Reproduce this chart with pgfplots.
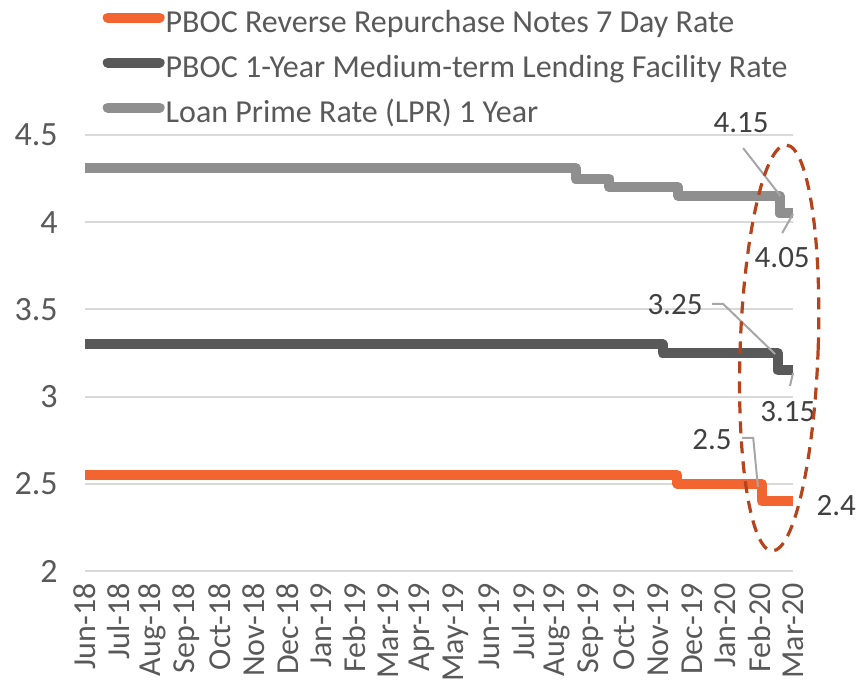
\documentclass[border=0pt]{standalone}
\usepackage{pgfplots}
\pgfplotsset{compat=1.18}
\usepackage{fontspec}
\setmainfont{Carlito}
\definecolor{cOr}{HTML}{F26531}
\definecolor{cDk}{HTML}{595959}
\definecolor{cLt}{HTML}{8F8F8F}
\definecolor{cGrid}{HTML}{D9D9D9}
\definecolor{cTxt}{HTML}{595959}
\definecolor{cLbl}{HTML}{404040}
\definecolor{cLead}{HTML}{A6A6A6}
\definecolor{cEll}{HTML}{B5441D}
\begin{document}
\begin{tikzpicture}
\path[use as bounding box] (0,0) rectangle (428pt,343pt);
\begin{axis}[
  at={(42.5pt,57.5pt)}, anchor=south west,
  scale only axis, width=354pt, height=218pt,
  xmin=0, xmax=21, ymin=2, ymax=4.5,
  clip=false,
  axis line style={draw=none},
  major tick length=0pt,
  ytick={2,2.5,3,3.5,4,4.5},
  yticklabels={2,2.5,3,3.5,4,4.5},
  ymajorgrids, grid style={cGrid, line width=1pt},
  xtick={0,1,...,21},
  xticklabels={Jun-18,Jul-18,Aug-18,Sep-18,Oct-18,Nov-18,Dec-18,Jan-19,Feb-19,Mar-19,Apr-19,May-19,Jun-19,Jul-19,Aug-19,Sep-19,Oct-19,Nov-19,Dec-19,Jan-20,Feb-20,Mar-20},
  yticklabel style={font=\fontsize{17}{17}\selectfont, text=cTxt, anchor=east, inner sep=0pt, xshift=-13.5pt},
  xticklabel style={font=\fontsize{16}{16}\selectfont, text=cTxt, rotate=90, anchor=east, inner sep=0pt},
  xticklabel shift=6pt,
  legend style={draw=none, fill=none, inner sep=0pt, outer sep=0pt,
    at={(axis description cs:0.025,1.29)}, anchor=north west,
    font=\fontsize{16}{16}\selectfont, text=cTxt, row sep=6.5pt,
    nodes={inner sep=0.5pt, text height=11.5pt, text depth=3.5pt}},
  legend cell align=left,
  legend image code/.code={\draw[line width=5pt, line cap=round, #1] (2.5pt,3.5pt) -- (28.5pt,3.5pt);},
  every axis plot/.append style={line width=5pt, line join=round},
]
\addplot[const plot, cOr] coordinates {(0,2.55) (17.57,2.50) (20.07,2.40) (21,2.40)};
\addlegendentry{PBOC Reverse Repurchase Notes 7 Day Rate}
\addplot[const plot, cDk] coordinates {(0,3.30) (17.13,3.25) (20.55,3.15) (21,3.15)};
\addlegendentry{PBOC 1-Year Medium-term Lending Facility Rate}
\addplot[const plot, cLt] coordinates {(0,4.31) (14.55,4.25) (15.55,4.20) (17.6,4.15) (20.6,4.05) (21,4.05)};
\addlegendentry{Loan Prime Rate (LPR) 1 Year}

% leader lines
\draw[cLead, line width=1pt] (axis cs:19.52,4.425) -- (axis cs:20.63,4.15);
\draw[cLead, line width=1pt] (axis cs:20.68,3.938) -- (axis cs:21.0,4.047);
\draw[cLead, line width=1pt] (axis cs:18.60,3.531) -- (axis cs:18.93,3.531) -- (axis cs:20.47,3.244);
\draw[cLead, line width=1pt] (axis cs:20.91,3.061) -- (axis cs:21.0,3.135);
\draw[cLead, line width=1pt] (axis cs:19.49,2.763) -- (axis cs:19.82,2.763) -- (axis cs:19.96,2.482);
% labels
\begin{scope}[every node/.style={font=\fontsize{15.5}{15.5}\selectfont, text=cLbl, inner sep=0pt}]
\node at (axis cs:19.46,4.569) {4.15};
\node at (axis cs:20.68,3.795) {4.05};
\node at (axis cs:17.50,3.525) {3.25};
\node at (axis cs:20.85,2.917) {3.15};
\node at (axis cs:18.60,2.751) {2.5};
\node at (axis cs:22.28,2.373) {2.4};
\end{scope}
% highlight ellipse
\draw[cEll, line width=1.6pt, dash pattern=on 6pt off 4pt, rotate around={-2:(axis cs:20.59,3.279)}]
  (axis cs:20.59,3.279) ellipse [x radius=19.5pt, y radius=101.5pt];
\end{axis}
\end{tikzpicture}
\end{document}
